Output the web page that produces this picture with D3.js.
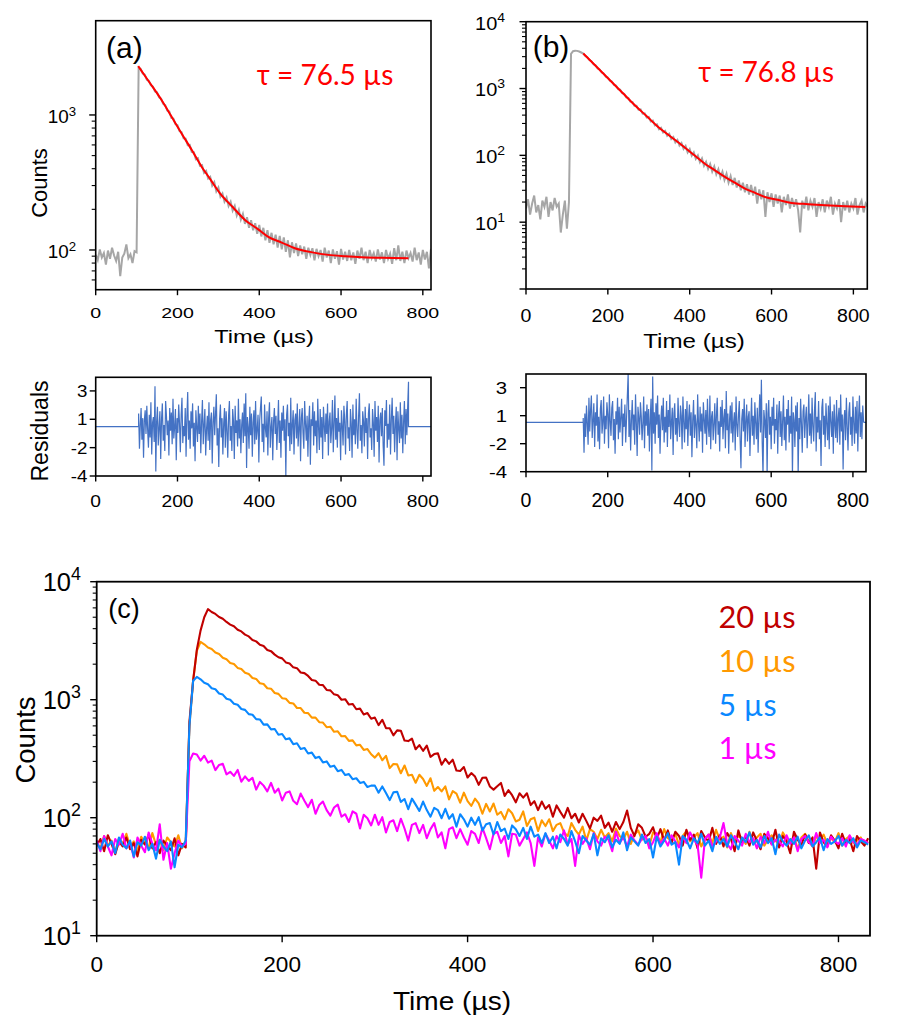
<!DOCTYPE html>
<html><head><meta charset="utf-8">
<script src="https://cdn.jsdelivr.net/npm/d3@7"></script>
<style>body{margin:0;background:#fff}svg{display:block}</style>
</head><body>
<svg id="chart" width="921" height="1024"></svg>
<script>
// ---------------- DATA ----------------
// Panel (a): measured counts, sampled every 5 µs from t = 0
const aStart = 0, aStep = 5;
const aCounts = [92,84,101,88,95,78,99,86,104,91,83,97,64,88,94,110,87,93,80,98,
96,
2240,2190,2030,1990,1820,1790,1660,1620,1490,1470,
1350,1320,1210,1180,1080,1060,950,940,855,840,
760,745,672,668,598,600,532,530,470,478,
420,425,372,385,338,348,300,318,272,290,
248,262,228,245,212,228,196,212,180,198,
168,185,156,175,146,166,140,158,132,153,
126,146,118,140,113,134,110,130,104,127,
101,124,97,118,88,114,95,112,90,108,
93,106,86,104,92,103,84,102,90,100,
82,104,88,99,80,101,86,98,78,102,
85,97,83,100,84,96,79,99,86,104,
84,97,80,100,87,95,82,101,85,96,
80,100,86,94,79,103,84,108,83,97,
80,99,87,95,82,104,84,96,78,100,
85,97,73,102];
const aFitTime = [104,130,161,185,210,235,259,280,304,335,365,395,422,455,487,530,569,610,651,700,765];
const aFitCounts = [2300,1770,1290,977,730,550,414,335,263,208,167,144,125,113.5,103,96,92,90,88.5,87.5,87];
const aTau = "τ = 76.5 µs";

// Panel (b): measured counts, sampled every 5 µs from t = 0
const bStart = 0, bStep = 5;
const bCounts = [16,22,13,19,25,14,18,11,21,17,24,12,20,15,23,17,19,7,13,21,8,
20,
3300,3620,3680,3660,3580,3460,3330,
3080,2940,2670,2560,2310,2230,2000,1930,1740,1680,
1505,1460,1305,1270,1130,1105,980,960,850,835,
735,726,636,632,551,552,481,486,420,426,
368,376,321,331,281,290,246,258,220,232,
196,210,176,188,156,170,140,153,125,138,
111,124,99,111,89,100,79,90,70,80,
63,74,57,68,52,62,47,57,43,53,
39,49,36,46,33,42,30,39,28,37,
26,36,25,34,19,31,22,30,12,28,
20,27,17,26,19,25,14,24,18,26,
16,23,17,22,15,7,21,16,24,15,
21,17,23,12,20,16,22,14,21,17,
24,13,19,16,22,10,20,15,21,14,
19,16,23,13,18,21,14,19,17];
const bFitTime = [140,170,201,235,266,295,323,350,381,410,437,460,486,510,535,560,584,615,649,690,731,780,829];
const bFitCounts = [3340,2188,1412,873,562,385,266,198,142,102,75,60.7,47.5,39,31.8,27.5,23.8,21.6,19.4,18.6,17.9,17.3,16.9];
const bTau = "τ = 76.8 µs";

// Residuals (a): every 2 µs from 105 µs; flat level outside the fit window
const raStart = 105, raStep = 2, raFlat = 0.35, raEnd = 820;
const raValues = [1.5,-1.6,0.4,2.0,-0.8,1.1,-2.4,0.9,1.8,-0.3,
2.2,0.1,-1.5,1.4,-0.6,2.5,-2.1,0.7,1.2,-1.0,
3.9,-3.6,0.8,2.1,-1.3,0.2,1.7,-2.5,1.0,2.4,
-0.9,0.5,-1.8,2.6,1.3,-0.4,0.9,-2.2,2.0,0.0,
1.6,-1.2,2.8,-0.7,0.3,1.9,-2.6,1.1,-0.2,2.3,
0.6,-1.9,1.4,2.9,-1.1,0.4,-0.5,2.0,-2.3,1.2,
3.4,-0.8,0.9,-1.6,1.7,0.2,2.4,-1.4,0.7,-2.7,
1.8,0.3,-1.0,2.2,-0.3,1.5,-2.0,0.8,2.7,-1.2,
0.5,1.9,-2.2,0.1,1.3,-0.9,2.5,-1.7,0.9,1.6,
-2.9,0.7,2.1,-0.4,1.4,3.2,-1.3,0.2,-3.2,1.0,
2.3,-0.6,1.1,-2.1,0.6,2.0,-1.5,1.7,0.0,-2.4,
1.3,2.6,-0.9,0.4,-1.8,1.9,0.8,-2.5,2.2,-0.2,
0.9,-1.4,2.8,-0.7,1.0,-2.0,0.5,1.6,-1.1,2.4,
-0.5,3.3,-3.3,1.2,0.3,-1.6,2.1,-0.4,1.5,-2.3,
0.7,1.8,-1.2,2.6,-0.8,0.1,1.4,-2.8,0.9,2.0,
3.0,-1.0,0.6,-1.9,2.3,0.2,-0.6,1.7,-2.2,1.1,
2.5,-1.5,0.3,1.2,-2.6,0.8,2.0,-0.3,1.3,-1.7,
0.4,2.7,-1.1,0.9,-2.4,1.6,0.0,2.2,-0.9,1.0,
-4.0,1.4,2.3,-0.5,0.7,-1.8,2.9,-1.2,0.5,1.8,
-2.1,0.9,1.5,-0.7,2.4,-1.4,0.2,1.9,-2.7,1.1,
2.0,-0.2,-1.6,2.6,0.6,-0.9,1.3,-2.3,0.8,2.2,
-3.0,1.0,0.4,2.5,-1.3,1.7,-0.5,0.9,-2.0,2.8,
0.3,-1.7,1.9,-0.6,1.2,-2.5,2.1,0.5,-1.0,1.5,
-0.3,2.4,-2.2,0.8,1.6,-1.1,0.2,2.7,-1.9,0.6,
3.1,-0.8,1.1,-1.5,2.0,-0.1,0.7,-2.6,1.8,0.4,
-1.3,2.2,0.9,-2.1,1.4,2.6,-0.7,0.3,-1.8,1.9,
0.6,-2.4,2.3,-0.4,1.0,-1.2,2.8,0.1,-1.6,1.3,
3.3,-0.9,0.5,-2.0,1.7,0.8,-1.4,2.1,-0.2,1.1,
-2.5,1.5,2.4,-0.6,0.2,-1.7,1.9,0.7,-2.3,2.6,
0.0,1.2,-1.0,2.2,-2.8,0.9,1.6,-0.5,2.0,-1.3,
-3.1,1.8,0.4,2.7,-1.5,0.6,-0.8,2.3,-2.1,1.0,
2.9,-0.3,1.3,-1.9,0.5,2.1,-2.6,1.7,0.2,-1.1,
2.5,-0.7,1.4,-2.0,0.8,2.6,-1.2,1.9,-0.4,2.2,
4.3];

// Residuals (b): every 2 µs from 140 µs
const rbStart = 140, rbStep = 2, rbFlat = 0.4, rbEnd = 832;
const rbValues = [0.8,-2.3,1.2,-0.9,1.9,0.3,-1.6,2.6,-0.4,1.5,
2.8,-1.0,0.6,2.1,-1.8,1.3,0.1,2.9,-1.3,0.9,
-2.0,1.6,2.4,-0.6,0.4,2.7,-1.5,1.0,-0.2,2.2,
1.1,-1.9,2.9,0.5,-0.8,1.7,2.3,-1.2,0.7,-2.4,
1.4,0.2,2.6,-1.1,1.8,-0.5,0.9,2.5,-1.7,1.2,
0.0,2.0,-1.4,0.7,2.8,4.8,-0.9,1.5,-2.1,0.6,
2.4,-0.3,1.1,-1.6,2.9,0.4,-2.6,1.8,0.8,-0.7,
2.2,1.0,-1.2,0.3,2.7,-1.9,1.4,0.1,2.0,-0.8,
1.6,-2.2,0.7,2.5,-3.9,4.5,-0.6,1.3,-1.5,2.1,
0.2,2.8,-1.0,1.1,-2.4,0.6,1.9,-0.3,2.6,-1.4,
0.9,-0.5,2.3,-1.8,1.5,0.0,2.9,-1.1,0.4,1.7,
-2.5,1.2,2.1,-0.7,0.8,-1.3,2.6,0.3,-0.9,1.9,
1.0,-2.0,2.7,0.5,-1.4,1.6,-0.2,2.3,-1.7,0.8,
2.0,-0.8,1.3,-2.7,0.6,2.4,-1.0,1.1,0.2,-1.9,
2.9,0.4,-1.3,1.8,-0.4,1.2,-2.3,2.2,0.7,-0.6,
1.5,-1.6,2.5,0.1,-0.9,2.8,-2.0,0.9,1.4,-1.2,
0.3,2.1,-1.5,1.0,2.6,-0.7,0.5,-2.2,1.8,0.0,
2.4,-1.1,0.8,1.6,-1.9,3.2,-0.3,1.2,-2.4,0.6,
1.9,-0.6,2.2,-1.4,0.4,1.3,-2.1,2.7,0.2,-0.9,
1.1,2.3,-1.2,-3.7,0.7,1.6,-0.4,2.5,-1.8,0.5,
2.0,-1.3,0.9,1.4,-2.6,0.3,2.6,-0.8,1.0,-1.6,
2.2,0.4,-1.1,1.7,-2.3,0.8,2.9,-0.5,4.2,-1.4,
-4.3,1.5,0.6,-1.0,2.1,-4.3,1.2,2.4,-0.7,0.9,
-2.0,1.8,0.1,2.6,-1.5,0.7,-0.3,2.0,-2.4,1.1,
2.3,-0.9,1.4,-1.7,0.5,2.8,-1.2,0.9,-2.1,1.6,
0.2,2.4,-1.4,1.0,-0.6,2.7,-4.3,1.3,0.6,-1.8,
1.9,-0.4,2.2,-4.3,0.8,-1.1,2.5,0.3,-2.3,1.4,
2.0,-1.0,0.7,1.8,-1.9,0.4,2.9,-0.8,1.2,-1.5,
2.6,0.1,-1.3,1.5,3.1,-2.2,0.9,-0.5,2.3,-1.1,
0.6,-3.5,1.7,2.5,-0.7,1.0,-1.8,2.1,0.3,-1.2,
1.9,-2.0,2.7,0.5,-0.9,1.4,-2.4,2.0,0.2,-1.0,
2.4,-1.4,0.8,1.7,-1.6,2.9,-0.4,1.1,-3.8,0.6,
1.5,-1.2,2.6,0.0,-2.1,1.3,2.2,-0.7,0.9,-1.7,
2.7,0.4,-1.5,1.8,-0.6,2.3,-2.2,1.0,2.8,-0.9,
1.3,-1.1,1.9,0.5];
const resTickValues = [-4,-1.5,1,3.5];
const resTickLabels = ["-4","-2","1","3"];

// Panel (c): counts every 4 µs from t = 0, one array per pulse width
const cStart = 0, cStep = 4;
const c20 = [58,66,52,71,60,49,63,57,68,54,61,47,65,59,72,55,62,50,64,58,53,67,48,60,56,
650,1450,2650,3850,5000,5850,
5540,5330,5020,4850,4560,4330,4190,3920,3790,3560,
3440,3210,3120,2920,2850,2640,2580,2410,2290,2240,
2070,2030,1880,1850,1700,1680,1590,1470,1450,1340,
1330,1210,1200,1110,1090,1000,1010,910,920,830,
840,750,770,690,
705,609,676,574,573,499,550,546,451,446,
467,380,412,369,408,328,346,351,281,315,
286,310,251,249,269,219,239,223,190,218,
219,184,173,185,197,153,171,155,135,161,
148,161,128,138,116,137,119,128,102,127,
112,100,121,99,108,91,108,94,81,100,
94,104,82,91,76,92,80,92,115,82,
70,88,82,69,73,83,
66,80,64,78,61,76,70,58,79,65,
72,55,77,68,63,82,60,71,57,74,
66,52,78,62,69,58,75,64,54,73,
67,60,79,56,70,63,50,76,65,59,
72,61,68,37,75,62,57,71,64,55,
73,60,66,52,70,63,58,67];
const c10 = [62,55,70,58,64,51,67,60,73,57,63,52,69,61,56,74,59,65,53,68,62,57,71,55,63,
600,1450,2600,3090,
2950,2770,2690,2510,2440,2270,2200,2050,2010,1860,
1820,1690,1650,1530,1500,1380,1360,1250,1240,1140,
1120,1030,1020,940,930,850,850,775,770,705,
705,645,640,585,590,535,540,490,492,448,
452,410,415,375,382,345,
323,352,307,334,263,285,283,238,277,228,
231,198,231,213,186,216,169,182,167,184,
143,168,160,134,163,138,126,145,132,108,
131,113,132,106,112,97,118,109,93,96,
113,85,97,100,77,95,85,97,77,87,
90,75,70,90,79,72,84,64,80,76,
66,
79,68,74,63,81,70,66,76,60,72,
78,65,69,58,75,71,62,80,67,64,
73,59,70,77,63,68,74,57,66,72,
61,79,65,69,56,74,63,70,67,60,
76,62,68,73,58,65,71,64,59,75,
66,61,70,54,68,73,63,57,69,65,
72,60,67,62,74,58,66,70,61,64,
68,59,63];
const c5 = [61,54,66,57,63,50,68,59,55,64,47,62,58,69,53,60,45,65,57,52,63,38,59,56,64,
600,1450,1560,
1490,1390,1350,1250,1225,1130,1105,1020,1000,925,
905,835,820,755,745,685,680,615,618,560,
565,505,512,462,470,420,428,382,390,350,
356,320,328,294,300,270,276,248,254,230,
234,212,216,197,201,182,187,
187,163,184,162,141,164,166,136,144,118,
145,129,114,137,116,102,121,116,99,119,
98,107,84,107,97,84,100,87,101,78,
88,90,72,92,77,81,66,86,80,70,
82,66,84,69,72,61,
74,61,69,55,72,66,58,77,63,50,
70,64,59,73,48,67,62,71,56,65,
60,75,53,68,63,58,72,61,66,46,
69,57,64,74,59,62,40,70,65,55,
67,61,73,58,64,52,69,60,66,57,
71,63,54,68,62,75,59,65,56,70,
61,67,49,72,63,58,66,60,69,55,
64,71,57,62,68,53,66,60,
63,70,58,65,61,67,56,64,62,59];
const c1 = [64,52,70,57,48,66,59,73,55,62,46,68,58,51,75,60,53,88,44,61,37,50,64,57,60,
300,350,
343,305,335,293,305,253,280,286,233,245,
226,254,202,224,205,218,173,201,187,167,
197,163,176,140,163,167,139,130,160,139,
123,142,108,128,137,116,104,122,129,102,
107,92,113,108,81,106,99,86,106,87,
101,75,92,95,77,98,81,64,87,90,
74,87,67,80,90,68,75,55,80,83,
67,80,68,59,77,73,61,82,67,54,
73,76,61,70,47,73,
72,58,66,75,61,39,68,57,73,64,
55,70,62,78,59,66,39,71,60,67,
54,74,63,58,69,65,52,76,61,68,
57,72,64,59,66,70,55,62,74,60,
67,58,71,63,56,69,61,75,65,59,
31,66,72,57,63,68,90,60,54,70,
64,58,73,62,67,55,69,61,76,59,
65,63,57,71,60,68,52,66,70,62,
58,74,61,65,56,69,63,60,67,57,
71,62,59,66,64,61];
const cLegend = ["20 µs","10 µs","5 µs","1 µs"];
const cColors = ["#c00000","#ff9900","#0a88ff","#ff00ff"];

const timeTicks = [0,200,400,600,800];

// ---------------- DRAWING ----------------
const FONT = '"Liberation Sans", Arial, sans-serif';
const FONT2 = 'Lato, "Open Sans", sans-serif';
const svg = d3.select("#chart");
const defs = svg.append("defs");

function pts(vals, start, step) { return vals.map((v, i) => [start + i * step, v]); }
function zip(ts, vs) { return ts.map((t, i) => [t, vs[i]]); }

function txt(g, s, x, y, o) {
  const t = g.append("text")
    .attr("transform", `translate(${x},${y})${o.rot ? ` rotate(${o.rot})` : ""} scale(${o.sx || 1},${o.sy || 1})`)
    .attr("text-anchor", o.anchor || "middle")
    .attr("font-size", o.size)
    .attr("fill", o.fill || "#000")
    .attr("font-family", o.family || FONT)
    .text(s);
  if (o.len) t.attr("textLength", o.len).attr("lengthAdjust", "spacingAndGlyphs");
  return t;
}
function powLabel(g, exp, x, y, size, sx) {
  const t = g.append("text")
    .attr("transform", `translate(${x},${y}) scale(${sx},1)`)
    .attr("text-anchor", "end").attr("font-size", size).attr("font-family", FONT).attr("fill", "#000");
  t.append("tspan").text("10");
  t.append("tspan").attr("font-size", size * 0.7).attr("dy", -size * 0.42).text(exp);
}
let clipId = 0;
function clip(x0, x1, y0, y1) {
  const id = "clip" + (clipId++);
  defs.append("clipPath").attr("id", id).append("rect")
    .attr("x", x0).attr("y", y0).attr("width", x1 - x0).attr("height", y1 - y0);
  return `url(#${id})`;
}
function frame(g, x0, x1, y0, y1, w) {
  g.append("rect").attr("x", x0).attr("y", y0).attr("width", x1 - x0).attr("height", y1 - y0)
    .attr("fill", "none").attr("stroke", "#000").attr("stroke-width", w || 1.6);
}
function xTicks(g, x, yb, vals, len, o) {
  vals.forEach(v => {
    g.append("line").attr("x1", x(v)).attr("x2", x(v)).attr("y1", yb).attr("y2", yb + len)
      .attr("stroke", "#000").attr("stroke-width", 1.4);
    txt(g, String(v), x(v), o.base, { size: o.size, sx: o.sx });
  });
}
function yTicksLog(g, y, xl, majors, minors, lab) {
  majors.forEach(v => g.append("line").attr("x1", xl - 6.5).attr("x2", xl).attr("y1", y(v)).attr("y2", y(v))
    .attr("stroke", "#000").attr("stroke-width", 1.4));
  minors.forEach(v => g.append("line").attr("x1", xl - 4).attr("x2", xl).attr("y1", y(v)).attr("y2", y(v))
    .attr("stroke", "#000").attr("stroke-width", 1.1));
  lab.vals.forEach((v, i) => powLabel(g, lab.exps[i], lab.right, y(v) + lab.size * 0.36 + (lab.dy || 0), lab.size, lab.sx || 1));
}
const minorsIn = (lo, hi) => { const a = []; for (let d = lo; d < hi; d *= 10) for (let k = 2; k <= 9; k++) a.push(d * k); return a; };

// ---- Panel (a)
{
  const g = svg.append("g");
  const X0 = 95.7, X1 = 431, Y0 = 20.7, Y1 = 289.7;
  const x = d3.scaleLinear().domain([0, 820]).range([X0, X1]);
  const y = d3.scaleLog().domain([50.8, 4990]).range([Y1, Y0]);
  const line = d3.line().x(d => x(d[0])).y(d => y(d[1]));
  const cp = clip(X0, X1, Y0, Y1);
  g.append("path").attr("d", line(pts(aCounts, aStart, aStep))).attr("clip-path", cp)
    .attr("fill", "none").attr("stroke", "#a6a6a6").attr("stroke-width", 2);
  g.append("path").attr("d", line.curve(d3.curveMonotoneX)(zip(aFitTime, aFitCounts))).attr("clip-path", cp)
    .attr("fill", "none").attr("stroke", "#ff0000").attr("stroke-width", 2);
  frame(g, X0, X1, Y0, Y1);
  xTicks(g, x, Y1, timeTicks, 5.5, { base: 317.5, size: 14.5, sx: 1.35 });
  const minors = minorsIn(10, 1000).filter(v => v > 52 && v < 4990 && v !== 100 && v !== 1000);
  yTicksLog(g, y, X0, [100, 1000], minors, { vals: [100, 1000], exps: ["2", "3"], right: 76, size: 18, sx: 1.05, dy: 2 });
  txt(g, "Time (µs)", 264, 343, { size: 18.5, sx: 1.28 });
  txt(g, "Counts", 47, 183, { size: 22, rot: -90 });
  txt(g, "(a)", 106, 58.3, { size: 30, anchor: "start" });
  txt(g, aTau, 256.7, 85, { size: 28, anchor: "start", fill: "#ff0000", family: FONT2, len: 136.6 });
}

// ---- Panel (b)
{
  const g = svg.append("g");
  const X0 = 526, X1 = 867.3, Y0 = 21.7, Y1 = 289;
  const x = d3.scaleLinear().domain([0, 834]).range([X0, X1]);
  const y = d3.scaleLog().domain([1, 10000]).range([Y1, Y0]);
  const line = d3.line().x(d => x(d[0])).y(d => y(d[1]));
  const cp = clip(X0, X1, Y0, Y1);
  g.append("path").attr("d", line(pts(bCounts, bStart, bStep))).attr("clip-path", cp)
    .attr("fill", "none").attr("stroke", "#a6a6a6").attr("stroke-width", 2);
  g.append("path").attr("d", line.curve(d3.curveMonotoneX)(zip(bFitTime, bFitCounts))).attr("clip-path", cp)
    .attr("fill", "none").attr("stroke", "#ff0000").attr("stroke-width", 2);
  frame(g, X0, X1, Y0, Y1);
  xTicks(g, x, Y1, timeTicks, 5.5, { base: 321.7, size: 19, sx: 1.03 });
  yTicksLog(g, y, X0, [1, 10, 100, 1000, 10000], minorsIn(1, 10000), { vals: [10, 100, 1000, 10000], exps: ["1", "2", "3", "4"], right: 505, size: 19, sx: 1.05, dy: 1 });
  txt(g, "Time (µs)", 694, 348.3, { size: 21, sx: 1.15 });
  txt(g, "(b)", 532.7, 57.3, { size: 30, anchor: "start" });
  txt(g, bTau, 698.3, 81.7, { size: 28, anchor: "start", fill: "#ff0000", family: FONT2, len: 135.7 });
}

// ---- Residuals (a)
{
  const g = svg.append("g");
  const X0 = 95.7, X1 = 431, Y0 = 377.3, Y1 = 476;
  const x = d3.scaleLinear().domain([0, 820]).range([X0, X1]);
  const y = d3.scaleLinear().domain([-4, 4.7]).range([Y1, Y0]);
  const line = d3.line().x(d => x(d[0])).y(d => y(d[1]));
  const data = pts(raValues, raStart, raStep);
  const full = [[0, raFlat], [raStart, raFlat], ...data, [data[data.length - 1][0], raFlat], [raEnd, raFlat]];
  g.append("path").attr("d", line(full)).attr("clip-path", clip(X0, X1, Y0, Y1))
    .attr("fill", "none").attr("stroke", "#4472c4").attr("stroke-width", 1.2);
  frame(g, X0, X1, Y0, Y1);
  xTicks(g, x, Y1, timeTicks, 5.5, { base: 506.7, size: 16, sx: 1.2 });
  resTickValues.forEach((v, i) => {
    g.append("line").attr("x1", X0 - 6).attr("x2", X0).attr("y1", y(v)).attr("y2", y(v)).attr("stroke", "#000").attr("stroke-width", 1.4);
    txt(g, resTickLabels[i], 87.5, y(v) + 6, { size: 17, anchor: "end", sx: 1.1 });
  });
  txt(g, "Residuals", 48, 431, { size: 23, rot: -90 });
}

// ---- Residuals (b)
{
  const g = svg.append("g");
  const X0 = 526, X1 = 866, Y0 = 374, Y1 = 471.7;
  const x = d3.scaleLinear().domain([0, 832]).range([X0, X1]);
  const y = d3.scaleLinear().domain([-4, 4.72]).range([Y1, Y0]);
  const line = d3.line().x(d => x(d[0])).y(d => y(d[1]));
  const data = pts(rbValues, rbStart, rbStep);
  const full = [[0, rbFlat], [rbStart, rbFlat], ...data, [data[data.length - 1][0] + 1, rbFlat], [rbEnd, rbFlat]];
  g.append("path").attr("d", line(full)).attr("clip-path", clip(X0, X1, Y0, Y1))
    .attr("fill", "none").attr("stroke", "#4472c4").attr("stroke-width", 1.2);
  frame(g, X0, X1, Y0, Y1);
  xTicks(g, x, Y1, timeTicks, 5.5, { base: 506.7, size: 19.5, sx: 1.0 });
  resTickValues.forEach((v, i) => {
    g.append("line").attr("x1", X0 - 6).attr("x2", X0).attr("y1", y(v)).attr("y2", y(v)).attr("stroke", "#000").attr("stroke-width", 1.4);
    txt(g, resTickLabels[i], 507, y(v) + 6, { size: 16, anchor: "end", sx: 1.27 });
  });
}

// ---- Panel (c)
{
  const g = svg.append("g");
  const X0 = 96.7, X1 = 870, Y0 = 581.7, Y1 = 935.7;
  const x = d3.scaleLinear().domain([0, 834]).range([X0, X1]);
  const y = d3.scaleLog().domain([10, 10000]).range([Y1, Y0]);
  const line = d3.line().x(d => x(d[0])).y(d => y(d[1]));
  const cp = clip(X0, X1, Y0, Y1);
  const series = [c20, c10, c5, c1];
  // draw order: orange, dark red, magenta, blue
  [1, 0, 3, 2].forEach(k => {
    g.append("path").attr("d", line(pts(series[k], cStart, cStep))).attr("clip-path", cp)
      .attr("fill", "none").attr("stroke", cColors[k]).attr("stroke-width", 2.1).attr("stroke-linejoin", "round");
  });
  frame(g, X0, X1, Y0, Y1, 1.8);
  xTicks(g, x, Y1, timeTicks, 6.5, { base: 971.7, size: 21.5, sx: 1.05 });
  yTicksLog(g, y, X0, [10, 100, 1000, 10000], minorsIn(10, 10000), { vals: [10, 100, 1000, 10000], exps: ["1", "2", "3", "4"], right: 81, size: 25.5, sx: 1.0, dy: 0 });
  txt(g, "Time (µs)", 452, 1010, { size: 26, sx: 1.08 });
  txt(g, "Counts", 35, 740, { size: 27.5, rot: -90 });
  txt(g, "(c)", 108.3, 618.3, { size: 27, anchor: "start" });
  const legY = [628.3, 671.7, 715.7, 759.3];
  const legW = [77, 77, 58, 58];
  cLegend.forEach((s, i) => txt(g, s, 718.5, legY[i], { size: 30, anchor: "start", fill: cColors[i], family: FONT2, len: legW[i] }));
}
</script>
</body></html>
